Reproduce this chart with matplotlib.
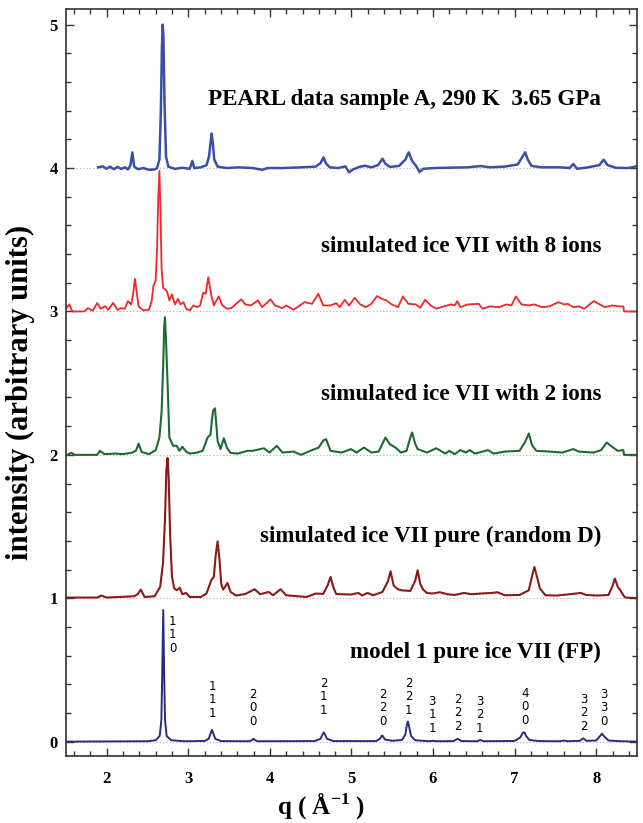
import matplotlib
matplotlib.use("Agg")
import matplotlib.pyplot as plt
from matplotlib.ticker import MultipleLocator

plt.rcParams["font.family"] = ["Liberation Serif", "DejaVu Serif"]
plt.rcParams["mathtext.fontset"] = "custom"
plt.rcParams["mathtext.bf"] = "Liberation Serif:bold"
plt.rcParams["mathtext.rm"] = "Liberation Serif"

# PEARL measured pattern (offset 4)
pearl_q = [1.896, 1.951, 1.996, 2.042, 2.087, 2.132, 2.178, 2.223, 2.260, 2.291, 2.314, 2.337,
           2.382, 2.450, 2.518, 2.587, 2.618, 2.646, 2.664, 2.677, 2.687, 2.696, 2.709, 2.727,
           2.755, 2.836, 2.927, 3.018, 3.050, 3.073, 3.154, 3.223, 3.254, 3.277, 3.286, 3.300,
           3.318, 3.359, 3.472, 3.609, 3.790, 3.904, 3.972, 4.154, 4.381, 4.562, 4.621, 4.658,
           4.690, 4.735, 4.835, 4.926, 4.971, 5.017, 5.107, 5.166, 5.244, 5.325, 5.380, 5.416,
           5.471, 5.584, 5.662, 5.702, 5.743, 5.798, 5.834, 5.880, 6.016, 6.243, 6.425, 6.584,
           6.697, 6.879, 7.038, 7.097, 7.129, 7.160, 7.206, 7.333, 7.560, 7.674, 7.719, 7.765,
           7.878, 8.037, 8.091, 8.141, 8.241, 8.378, 8.468, 8.514]
pearl_i = [0.005, 0.012, -0.005, 0.010, -0.008, 0.008, -0.006, 0.005, -0.010, 0.020, 0.109, 0.010,
           -0.008, 0.000, -0.012, -0.010, 0.000, 0.060, 0.400, 0.850, 1.000, 0.900, 0.450, 0.080,
           0.010, -0.006, 0.002, -0.005, 0.050, 0.000, 0.005, 0.020, 0.080, 0.200, 0.240, 0.180,
           0.060, 0.010, 0.000, 0.005, 0.000, -0.012, 0.000, 0.000, 0.005, 0.010, 0.035, 0.074,
           0.030, 0.005, 0.000, 0.012, -0.030, -0.010, 0.010, 0.016, 0.005, 0.020, 0.065, 0.030,
           0.008, 0.015, 0.060, 0.110, 0.050, 0.010, -0.028, -0.005, 0.000, 0.003, 0.005, 0.014,
           0.005, 0.010, 0.025, 0.080, 0.110, 0.060, 0.015, 0.005, 0.005, 0.000, 0.028, -0.005,
           0.003, 0.020, 0.058, 0.020, 0.002, 0.000, 0.008, 0.020]

# simulated ice VII with 8 ions (offset 3)
ions8_q = [1.428, 1.474, 1.542, 1.578, 1.724, 1.769, 1.828, 1.883, 1.928, 1.983, 2.019, 2.078,
           2.132, 2.178, 2.223, 2.260, 2.300, 2.323, 2.346, 2.369, 2.391, 2.450, 2.518, 2.550,
           2.573, 2.600, 2.618, 2.632, 2.646, 2.659, 2.673, 2.691, 2.737, 2.768, 2.800, 2.836,
           2.873, 2.905, 2.941, 2.973, 3.018, 3.063, 3.109, 3.145, 3.182, 3.213, 3.245, 3.282,
           3.313, 3.372, 3.418, 3.472, 3.527, 3.586, 3.649, 3.699, 3.767, 3.854, 3.904, 4.008,
           4.063, 4.154, 4.199, 4.290, 4.426, 4.517, 4.594, 4.653, 4.744, 4.812, 4.858, 4.917,
           4.971, 5.039, 5.107, 5.176, 5.244, 5.312, 5.380, 5.425, 5.494, 5.571, 5.630, 5.698,
           5.789, 5.843, 5.902, 5.970, 6.039, 6.152, 6.220, 6.266, 6.297, 6.334, 6.425, 6.561,
           6.606, 6.697, 6.810, 6.901, 6.961, 7.015, 7.083, 7.174, 7.242, 7.333, 7.424, 7.537,
           7.605, 7.651, 7.719, 7.787, 7.855, 7.969, 8.105, 8.196, 8.287, 8.332, 8.341, 8.528]
ions8_i = [0.015, 0.000, 0.049, 0.000, 0.000, 0.023, 0.005, 0.058, 0.019, 0.037, 0.012, 0.060,
           0.012, 0.023, 0.019, 0.072, 0.049, 0.120, 0.228, 0.130, 0.035, 0.007, 0.012, 0.070,
           0.180, 0.215, 0.450, 0.800, 0.980, 0.700, 0.300, 0.165, 0.142, 0.077, 0.119, 0.049,
           0.088, 0.049, 0.065, 0.019, 0.007, 0.042, 0.030, 0.042, 0.130, 0.123, 0.239, 0.112,
           0.042, 0.105, 0.042, 0.019, 0.023, 0.053, 0.084, 0.049, 0.042, 0.077, 0.030, 0.084,
           0.042, 0.023, 0.042, 0.012, 0.065, 0.053, 0.123, 0.042, 0.042, 0.058, 0.030, 0.081,
           0.042, 0.095, 0.049, 0.030, 0.053, 0.107, 0.086, 0.077, 0.049, 0.030, 0.105, 0.053,
           0.049, 0.026, 0.081, 0.042, 0.019, 0.039, 0.049, 0.042, 0.072, 0.030, 0.049, 0.053,
           0.019, 0.035, 0.030, 0.049, 0.042, 0.105, 0.049, 0.042, 0.049, 0.030, 0.035, 0.065,
           0.049, 0.053, 0.030, 0.035, 0.019, 0.072, 0.030, 0.042, 0.035, 0.035, 0.000, 0.000]

# simulated ice VII with 2 ions (offset 2)
ions2_q = [1.428, 1.519, 1.565, 1.610, 1.883, 1.919, 1.973, 2.110, 2.201, 2.314, 2.360, 2.391,
           2.428, 2.518, 2.600, 2.646, 2.673, 2.691, 2.705, 2.714, 2.727, 2.746, 2.768, 2.814,
           2.859, 2.891, 2.927, 2.973, 3.018, 3.109, 3.177, 3.236, 3.272, 3.291, 3.304, 3.327,
           3.345, 3.359, 3.395, 3.436, 3.472, 3.518, 3.609, 3.722, 3.790, 3.926, 3.995, 4.085,
           4.154, 4.290, 4.381, 4.517, 4.599, 4.653, 4.689, 4.744, 4.880, 4.994, 5.062, 5.153,
           5.244, 5.334, 5.416, 5.471, 5.539, 5.607, 5.675, 5.721, 5.743, 5.779, 5.811, 5.925,
           6.039, 6.152, 6.198, 6.266, 6.334, 6.402, 6.447, 6.515, 6.674, 6.742, 6.879, 7.060,
           7.128, 7.174, 7.211, 7.265, 7.424, 7.583, 7.719, 7.787, 7.969, 8.060, 8.128, 8.196,
           8.264, 8.332, 8.341, 8.528]
ions2_i = [0.005, 0.000, 0.014, 0.000, 0.000, 0.028, 0.005, 0.009, 0.005, 0.016, 0.030, 0.079,
           0.020, 0.005, 0.033, 0.120, 0.300, 0.600, 0.900, 0.960, 0.800, 0.500, 0.121, 0.063,
           0.063, 0.028, 0.056, 0.023, 0.009, 0.016, 0.028, 0.121, 0.140, 0.250, 0.307, 0.325,
           0.200, 0.098, 0.040, 0.116, 0.051, 0.014, 0.009, 0.028, 0.028, 0.046, 0.016, 0.063,
           0.016, 0.023, 0.000, 0.033, 0.051, 0.100, 0.109, 0.028, 0.016, 0.040, 0.016, 0.051,
           0.016, 0.023, 0.121, 0.074, 0.051, 0.016, 0.028, 0.120, 0.156, 0.080, 0.040, 0.016,
           0.046, 0.009, 0.028, 0.005, 0.033, 0.016, 0.033, 0.009, 0.033, 0.009, 0.023, 0.028,
           0.090, 0.149, 0.070, 0.028, 0.023, 0.016, 0.040, 0.023, 0.016, 0.033, 0.086, 0.056,
           0.028, 0.033, 0.000, 0.000]

# simulated ice VII pure, random D (offset 1)
pure_q = [1.428, 1.883, 1.937, 1.996, 2.155, 2.337, 2.382, 2.418, 2.464, 2.587, 2.655, 2.691,
          2.714, 2.732, 2.746, 2.759, 2.777, 2.800, 2.827, 2.859, 2.896, 2.927, 2.973, 3.018,
          3.154, 3.223, 3.282, 3.313, 3.336, 3.359, 3.381, 3.404, 3.427, 3.481, 3.518, 3.586,
          3.699, 3.813, 3.881, 3.986, 4.040, 4.131, 4.199, 4.335, 4.449, 4.562, 4.653, 4.708,
          4.744, 4.776, 4.812, 4.880, 4.994, 5.085, 5.130, 5.198, 5.266, 5.380, 5.448, 5.480,
          5.516, 5.562, 5.607, 5.721, 5.780, 5.811, 5.843, 5.879, 5.925, 5.993, 6.084, 6.175,
          6.266, 6.379, 6.470, 6.584, 6.720, 6.788, 6.879, 7.060, 7.174, 7.211, 7.242, 7.278,
          7.310, 7.378, 7.515, 7.674, 7.810, 7.878, 8.014, 8.150, 8.196, 8.228, 8.264, 8.296,
          8.332, 8.355, 8.528]
pure_i = [0.005, 0.005, 0.019, 0.005, 0.009, 0.014, 0.030, 0.060, 0.009, 0.014, 0.079, 0.250,
          0.550, 0.900, 0.978, 0.850, 0.450, 0.150, 0.070, 0.056, 0.074, 0.028, 0.037, 0.009,
          0.009, 0.033, 0.126, 0.149, 0.300, 0.397, 0.280, 0.100, 0.060, 0.107, 0.044, 0.019,
          0.030, 0.063, 0.028, 0.044, 0.021, 0.063, 0.021, 0.014, 0.009, 0.033, 0.030, 0.090,
          0.149, 0.080, 0.030, 0.028, 0.026, 0.037, 0.019, 0.037, 0.021, 0.044, 0.120, 0.188,
          0.090, 0.065, 0.056, 0.051, 0.120, 0.195, 0.100, 0.060, 0.037, 0.033, 0.042, 0.028,
          0.023, 0.037, 0.028, 0.033, 0.037, 0.042, 0.021, 0.023, 0.056, 0.150, 0.218, 0.140,
          0.067, 0.021, 0.019, 0.028, 0.037, 0.023, 0.019, 0.023, 0.080, 0.137, 0.080, 0.056,
          0.021, 0.005, 0.000]

# model 1 pure ice VII (FP), offset 0
fp_q = [1.40, 2.50, 2.60, 2.65, 2.67, 2.68, 2.693, 2.705, 2.715, 2.735, 2.79, 2.95,
        3.20, 3.25, 3.275, 3.29, 3.305, 3.33, 3.40, 3.75, 3.785, 3.80, 3.815, 3.85,
        4.55, 4.62, 4.645, 4.66, 4.675, 4.70, 4.78, 5.30, 5.35, 5.37, 5.38, 5.41,
        5.50, 5.62, 5.66, 5.68, 5.692, 5.705, 5.73, 5.78, 5.95, 6.00, 6.05, 6.25,
        6.30, 6.35, 6.54, 6.58, 6.62, 7.00, 7.07, 7.10, 7.12, 7.14, 7.18, 7.30,
        7.55, 7.60, 7.65, 7.80, 7.84, 7.88, 8.00, 8.04, 8.07, 8.10, 8.15, 8.30, 8.55]
fp_i = [0.000, 0.003, 0.010, 0.040, 0.150, 0.450, 0.918, 0.450, 0.150, 0.040, 0.010, 0.003,
        0.005, 0.020, 0.060, 0.082, 0.060, 0.020, 0.004, 0.003, 0.012, 0.020, 0.012, 0.003,
        0.004, 0.020, 0.050, 0.065, 0.050, 0.020, 0.004, 0.004, 0.020, 0.040, 0.042, 0.015,
        0.006, 0.012, 0.050, 0.120, 0.140, 0.110, 0.040, 0.010, 0.003, 0.006, 0.003, 0.004,
        0.020, 0.004, 0.003, 0.012, 0.003, 0.005, 0.030, 0.062, 0.065, 0.040, 0.012, 0.004,
        0.003, 0.008, 0.003, 0.006, 0.023, 0.006, 0.008, 0.035, 0.055, 0.035, 0.008, 0.003, 0.000]

offsets = [4, 3, 2, 1, 0]
colors = ["#3a4fa6", "#f02828", "#1d6b2e", "#8a1a1a", "#2b2a7c"]
labels = ["PEARL data sample A, 290 K  3.65 GPa",
          "simulated ice VII with 8 ions",
          "simulated ice VII with 2 ions",
          "simulated ice VII pure (random D)",
          "model 1 pure ice VII (FP)"]
label_y = [4.48, 3.45, 2.42, 1.43, 0.62]

# Miller indices of the FP reflections
hkl = ["110", "111", "200", "211", "220", "221", "311", "222", "321", "400", "322", "330"]
hkl_q = [2.81, 3.30, 3.79, 4.66, 5.38, 5.70, 5.99, 6.30, 6.57, 7.13, 7.85, 8.09]
hkl_y = [0.744, 0.291, 0.235, 0.312, 0.235, 0.312, 0.186, 0.200, 0.186, 0.242, 0.200, 0.235]

fig = plt.figure(figsize=(6.43, 8.23), dpi=100)
ax = fig.add_axes([0.1025, 0.0814, 0.8882, 0.9073])

for y in offsets:
    ax.axhline(y, color="#b0b0b0", lw=0.8, ls=(0, (1, 2)), zorder=0)

series = [(pearl_q, pearl_i), (ions8_q, ions8_i), (ions2_q, ions2_i), (pure_q, pure_i), (fp_q, fp_i)]
widths = [1.8, 1.3, 1.5, 1.5, 1.4]
for (q, inten), off, c, lw in zip(series, offsets, colors, widths):
    ax.plot(q, [v + off for v in inten], color=c, lw=lw, zorder=2)

for txt, y in zip(labels, label_y):
    ax.text(8.06, y, txt, ha="right", va="center", fontsize=16.6, fontweight="bold")

for h, x, y in zip(hkl, hkl_q, hkl_y):
    ax.text(x, y, "\n".join(h), ha="center", va="center", fontsize=8.5,
            family="DejaVu Sans", linespacing=1.08)

ax.set_xlim(1.5, 8.5)
ax.set_ylim(-0.10, 5.107)
ax.xaxis.set_major_locator(MultipleLocator(1))
ax.xaxis.set_minor_locator(MultipleLocator(0.2))
ax.yaxis.set_major_locator(MultipleLocator(1))
ax.yaxis.set_minor_locator(MultipleLocator(0.2))
ax.tick_params(which="both", direction="in", top=True, right=True, color="#333333", width=1)
ax.tick_params(which="major", length=6, labelsize=12)
ax.tick_params(axis="x", which="major", pad=11)
ax.tick_params(axis="y", which="major", pad=6)
ax.tick_params(which="minor", length=3.5)
for lab in ax.get_xticklabels() + ax.get_yticklabels():
    lab.set_fontweight("bold")
for sp in ax.spines.values():
    sp.set_linewidth(1.2)
    sp.set_color("#333333")

fig.text(20 / 643, 1 - 392 / 823, "intensity (arbitrary units)", rotation=90,
         ha="center", va="center", fontsize=22, fontweight="bold")
fig.text(321 / 643, 1 - 806 / 823, r"q ( Å$^{\mathbf{-1}}$ )", ha="center", va="center",
         fontsize=18, fontweight="bold")

fig.savefig("out.png", dpi=100)
